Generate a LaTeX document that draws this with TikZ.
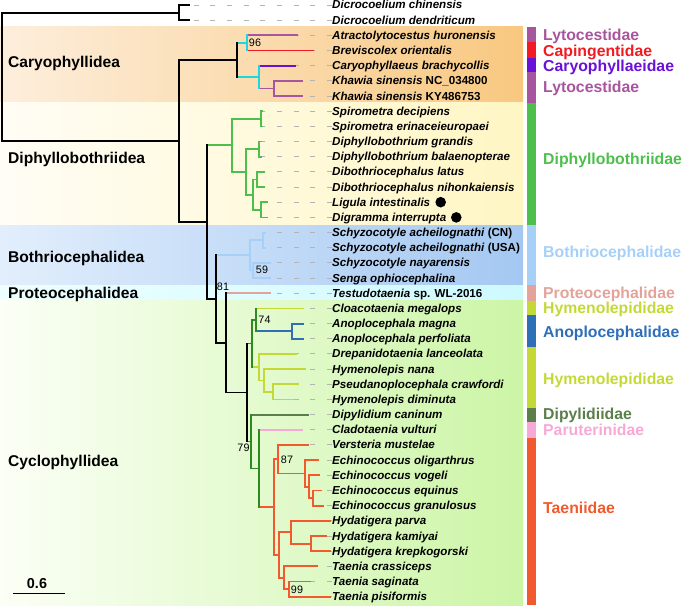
\documentclass[tikz,border=0pt]{standalone}
\usepackage{fontspec}
\setmainfont{Liberation Sans}
\definecolor{cyanb}{HTML}{1CD8DE}
\definecolor{lyto}{HTML}{A8559F}
\definecolor{caping}{HTML}{F21B23}
\definecolor{caryo}{HTML}{6A11D8}
\definecolor{diphy}{HTML}{4CBF4C}
\definecolor{bothr}{HTML}{A6D0F8}
\definecolor{proteo}{HTML}{E3A39A}
\definecolor{hymen}{HTML}{C4D936}
\definecolor{anopl}{HTML}{2E6FB8}
\definecolor{dipyl}{HTML}{5A7F4A}
\definecolor{parut}{HTML}{F7A9D6}
\definecolor{taeni}{HTML}{F05A2E}
\definecolor{dkgreen}{HTML}{2E8B22}
\definecolor{dashgray}{HTML}{B4B4B4}
\newcommand\mkclade[6]{%
  \draw[br,#5] (#1 |- #2) -- (#2);
  \draw[br,#6] (#1 |- #3) -- (#3);
  \draw[br,#4] (#1 |- #2) -- (#1 |- #3);}
\newcommand\tipfont{\fontsize{11.6}{13}\selectfont\bfseries}
\tikzset{
  br/.style={line width=1.8pt, line cap=rect},
  dashline/.style={draw=dashgray, line width=0.9pt, dash pattern=on 5pt off 11.67pt},
  tiplab/.style={anchor=base west, inner sep=0pt, font=\tipfont},
  famlab/.style={anchor=base west, inner sep=0pt, font=\fontsize{15.8}{18}\selectfont\bfseries},
  ordlab/.style={anchor=base west, inner sep=0pt, font=\fontsize{15.6}{18}\selectfont\bfseries},
  bslab/.style={inner sep=0pt, font=\fontsize{10.8}{12}\selectfont},
}
\begin{document}
\begin{tikzpicture}[x=1pt,y=-1pt]
\useasboundingbox (0,0) rectangle (685,605);
% background bands
\shade[left color={rgb,255:red,253;green,238;blue,220}, right color={rgb,255:red,248;green,200;blue,128}] (0,26.7) rectangle (523,102.7);
\shade[left color={rgb,255:red,255;green,253;blue,245}, right color={rgb,255:red,255;green,246;blue,196}] (0,102.7) rectangle (523,225);
\shade[left color={rgb,255:red,226;green,238;blue,252}, right color={rgb,255:red,164;green,200;blue,242}] (0,225) rectangle (523,285);
\shade[left color={rgb,255:red,238;green,255;blue,255}, right color={rgb,255:red,205;green,250;blue,255}] (0,285) rectangle (523,300.7);
\shade[left color={rgb,255:red,251;green,255;blue,246}, right color={rgb,255:red,204;green,245;blue,166}] (0,300.7) rectangle (523,605);
% family bar
\fill[lyto] (527,26.7) rectangle (536,42);
\fill[caping] (527,42) rectangle (536,57.5);
\fill[caryo] (527,57.5) rectangle (536,72);
\fill[lyto] (527,72) rectangle (536,102.7);
\fill[diphy] (527,102.7) rectangle (536,224.5);
\fill[bothr] (527,224.5) rectangle (536,285);
\fill[proteo] (527,285) rectangle (536,300.5);
\fill[hymen] (527,300.5) rectangle (536,315);
\fill[anopl] (527,315) rectangle (536,347);
\fill[hymen] (527,347) rectangle (536,407.5);
\fill[dipyl] (527,407.5) rectangle (536,422);
\fill[parut] (527,422) rectangle (536,437.5);
\fill[taeni] (527,437.5) rectangle (536,605);
% family labels
\node[famlab, text=lyto] (f1) at (543,40.9) {Lytocestidae};
\node[famlab, text=caping] (f2) at (543,56.1) {Capingentidae};
\node[famlab, text=caryo] (f3) at (543,71.3) {Caryophyllaeidae};
\node[famlab, text=lyto] (f4) at (543,92.9) {Lytocestidae};
\node[famlab, text=diphy] (f5) at (543,164.9) {Diphyllobothriidae};
\node[famlab, text=bothr] (f6) at (543,257.9) {Bothriocephalidae};
\node[famlab, text=proteo] (f7) at (543,298.9) {Proteocephalidae};
\node[famlab, text=hymen] (f8) at (543,313.9) {Hymenolepididae};
\node[famlab, text=anopl] (f9) at (543,337.3) {Anoplocephalidae};
\node[famlab, text=hymen] (f10) at (543,384.9) {Hymenolepididae};
\node[famlab, text=dipyl] (f11) at (543,419.9) {Dipylidiidae};
\node[famlab, text=parut] (f12) at (543,435.6) {Paruterinidae};
\node[famlab, text=taeni] (f13) at (543,513.9) {Taeniidae};
% order labels
\node[ordlab] (o1) at (8,67.3) {Caryophyllidea};
\node[ordlab] (o2) at (8,163.9) {Diphyllobothriidea};
\node[ordlab] (o3) at (8,262.3) {Bothriocephalidea};
\node[ordlab] (o4) at (8,298.9) {Proteocephalidea};
\node[ordlab] (o5) at (8,466.6) {Cyclophyllidea};
% tips
\coordinate (t1) at (189,5.0);
\coordinate (t2) at (189,20.2);
\coordinate (t3) at (297,35.3);
\coordinate (t4) at (313,50.5);
\coordinate (t5) at (295,65.7);
\coordinate (t6) at (302,80.9);
\coordinate (t7) at (302,96.0);
\coordinate (t8) at (262.5,111.2);
\coordinate (t9) at (262.5,126.4);
\coordinate (t10) at (261.5,141.5);
\coordinate (t11) at (261.5,156.7);
\coordinate (t12) at (264,171.9);
\coordinate (t13) at (264,187.0);
\coordinate (t14) at (266.7,202.2);
\coordinate (t15) at (266.7,217.4);
\coordinate (t16) at (265,232.6);
\coordinate (t17) at (265,247.7);
\coordinate (t18) at (270,262.9);
\coordinate (t19) at (270,278.1);
\coordinate (t20) at (270,293.2);
\coordinate (t21) at (302.7,308.4);
\coordinate (t22) at (302.7,323.6);
\coordinate (t23) at (302.7,338.7);
\coordinate (t24) at (296,353.9);
\coordinate (t25) at (305,369.1);
\coordinate (t26) at (297.7,384.3);
\coordinate (t27) at (292.7,399.4);
\coordinate (t28) at (308.3,414.6);
\coordinate (t29) at (302.3,429.8);
\coordinate (t30) at (308.3,444.9);
\coordinate (t31) at (317.7,460.1);
\coordinate (t32) at (319,475.3);
\coordinate (t33) at (321,490.4);
\coordinate (t34) at (323.3,505.6);
\coordinate (t35) at (330,520.8);
\coordinate (t36) at (326,536.0);
\coordinate (t37) at (330,551.1);
\coordinate (t38) at (317.3,566.3);
\coordinate (t39) at (310,581.5);
\coordinate (t40) at (330,596.6);
% tip labels
\node[tiplab] (l1) at (332,9.0) {\itshape Dicrocoelium chinensis};
\node[tiplab] (l2) at (332,24.2) {\itshape Dicrocoelium dendriticum};
\node[tiplab] (l3) at (332,39.3) {\itshape Atractolytocestus huronensis};
\node[tiplab] (l4) at (332,54.5) {\itshape Breviscolex orientalis};
\node[tiplab] (l5) at (332,69.7) {\itshape Caryophyllaeus brachycollis};
\node[tiplab] (l6) at (332,84.9) {\textit{Khawia sinensis} NC\_034800};
\node[tiplab] (l7) at (332,100.0) {\textit{Khawia sinensis} KY486753};
\node[tiplab] (l8) at (332,115.2) {\itshape Spirometra decipiens};
\node[tiplab] (l9) at (332,130.4) {\itshape Spirometra erinaceieuropaei};
\node[tiplab] (l10) at (332,145.5) {\itshape Diphyllobothrium grandis};
\node[tiplab] (l11) at (332,160.7) {\itshape Diphyllobothrium balaenopterae};
\node[tiplab] (l12) at (332,175.9) {\itshape Dibothriocephalus latus};
\node[tiplab] (l13) at (332,191.0) {\itshape Dibothriocephalus nihonkaiensis};
\node[tiplab] (l14) at (332,206.2) {\itshape Ligula intestinalis};
\node[tiplab] (l15) at (332,221.4) {\itshape Digramma interrupta};
\node[tiplab] (l16) at (332,236.6) {\textit{Schyzocotyle acheilognathi} (CN)};
\node[tiplab] (l17) at (332,251.7) {\textit{Schyzocotyle acheilognathi} (USA)};
\node[tiplab] (l18) at (332,266.9) {\itshape Schyzocotyle nayarensis};
\node[tiplab] (l19) at (332,282.1) {\itshape Senga ophiocephalina};
\node[tiplab] (l20) at (332,297.2) {\textit{Testudotaenia} sp. WL-2016};
\node[tiplab] (l21) at (332,312.4) {\itshape Cloacotaenia megalops};
\node[tiplab] (l22) at (332,327.6) {\itshape Anoplocephala magna};
\node[tiplab] (l23) at (332,342.7) {\itshape Anoplocephala perfoliata};
\node[tiplab] (l24) at (332,357.9) {\itshape Drepanidotaenia lanceolata};
\node[tiplab] (l25) at (332,373.1) {\itshape Hymenolepis nana};
\node[tiplab] (l26) at (332,388.3) {\itshape Pseudanoplocephala crawfordi};
\node[tiplab] (l27) at (332,403.4) {\itshape Hymenolepis diminuta};
\node[tiplab] (l28) at (332,418.6) {\itshape Dipylidium caninum};
\node[tiplab] (l29) at (332,433.8) {\itshape Cladotaenia vulturi};
\node[tiplab] (l30) at (332,448.9) {\itshape Versteria mustelae};
\node[tiplab] (l31) at (332,464.1) {\itshape Echinococcus oligarthrus};
\node[tiplab] (l32) at (332,479.3) {\itshape Echinococcus vogeli};
\node[tiplab] (l33) at (332,494.4) {\itshape Echinococcus equinus};
\node[tiplab] (l34) at (332,509.6) {\itshape Echinococcus granulosus};
\node[tiplab] (l35) at (332,524.8) {\itshape Hydatigera parva};
\node[tiplab] (l36) at (332,540.0) {\itshape Hydatigera kamiyai};
\node[tiplab] (l37) at (332,555.1) {\itshape Hydatigera krepkogorski};
\node[tiplab] (l38) at (332,570.3) {\itshape Taenia crassiceps};
\node[tiplab] (l39) at (332,585.5) {\itshape Taenia saginata};
\node[tiplab] (l40) at (332,600.6) {\itshape Taenia pisiformis};
\fill ([xshift=10.3pt,yshift=4pt]l14.base east) circle (5.3pt);
\fill ([xshift=9.8pt,yshift=4pt]l15.base east) circle (5.3pt);
% dashed leaders
\foreach \i in {1,...,40}{\draw[dashline] (l\i.west |- t\i) -- (t\i);}
% internal nodes
\coordinate (root) at (2,76.9);
\coordinate (nD) at (179,12.6);
\coordinate (n179) at (179,141.1);
\coordinate (nCar) at (236.7,60.0);
\coordinate (nA) at (247.3,42.9);
\coordinate (nC) at (259.3,77.0);
\coordinate (nK) at (274.3,88.4);
\coordinate (n207) at (207.3,222.2);
\coordinate (nDip) at (232.3,145.3);
\coordinate (nSp) at (260.7,118.8);
\coordinate (nD2) at (246,171.9);
\coordinate (nDg) at (259.3,149.1);
\coordinate (nD3) at (252.7,194.6);
\coordinate (nDl) at (257.3,179.5);
\coordinate (nLi) at (260.7,209.8);
\coordinate (n216) at (215.7,299.1);
\coordinate (nBo) at (250,255.3);
\coordinate (nSc) at (263.3,240.1);
\coordinate (nSn) at (253.3,270.5);
\coordinate (n226) at (225.7,342.9);
\coordinate (n247) at (246.7,392.5);
\coordinate (nH) at (252.3,343.5);
\coordinate (n74) at (256,319.8);
\coordinate (nAn) at (292.3,331.2);
\coordinate (nHy) at (259.3,367.2);
\coordinate (nHn) at (264,380.5);
\coordinate (nPs) at (273.3,391.8);
\coordinate (nT) at (251,441.5);
\coordinate (nCl) at (259.3,468.4);
\coordinate (nTa) at (274,507.0);
\coordinate (nVE) at (278.3,459.1);
\coordinate (nE) at (305,473.4);
\coordinate (nE2) at (309.3,486.6);
\coordinate (nE3) at (312.7,498.0);
\coordinate (nHT) at (279.3,554.9);
\coordinate (nHyd) at (290.7,532.2);
\coordinate (nHk) at (311,543.6);
\coordinate (nTae) at (284.3,577.7);
\coordinate (nTs) at (289.3,589.0);
% branches
\mkclade{root}{nD}{n179}{black}{black}{black}
\mkclade{nD}{t1}{t2}{black}{black}{black}
\mkclade{n179}{nCar}{n207}{black}{black}{black}
\mkclade{nCar}{nA}{nC}{black}{cyanb}{cyanb}
\mkclade{nA}{t3}{t4}{cyanb}{lyto}{caping}
\mkclade{nC}{t5}{nK}{cyanb}{caryo}{lyto}
\mkclade{nK}{t6}{t7}{lyto}{lyto}{lyto}
\mkclade{n207}{nDip}{n216}{black}{diphy}{black}
\mkclade{nDip}{nSp}{nD2}{diphy}{diphy}{diphy}
\mkclade{nSp}{t8}{t9}{diphy}{diphy}{diphy}
\mkclade{nD2}{nDg}{nD3}{diphy}{diphy}{diphy}
\mkclade{nDg}{t10}{t11}{diphy}{diphy}{diphy}
\mkclade{nD3}{nDl}{nLi}{diphy}{diphy}{diphy}
\mkclade{nDl}{t12}{t13}{diphy}{diphy}{diphy}
\mkclade{nLi}{t14}{t15}{diphy}{diphy}{diphy}
\mkclade{n216}{nBo}{n226}{black}{bothr}{black}
\mkclade{nBo}{nSc}{nSn}{bothr}{bothr}{bothr}
\mkclade{nSc}{t16}{t17}{bothr}{bothr}{bothr}
\mkclade{nSn}{t18}{t19}{bothr}{bothr}{bothr}
\mkclade{n226}{t20}{n247}{black}{proteo}{black}
\mkclade{n247}{nH}{nT}{black}{dkgreen}{dkgreen}
\mkclade{nH}{n74}{nHy}{dkgreen}{dkgreen}{hymen}
\mkclade{n74}{t21}{nAn}{dkgreen}{hymen}{anopl}
\mkclade{nAn}{t22}{t23}{anopl}{anopl}{anopl}
\mkclade{nHy}{t24}{nHn}{hymen}{hymen}{hymen}
\mkclade{nHn}{t25}{nPs}{hymen}{hymen}{hymen}
\mkclade{nPs}{t26}{t27}{hymen}{hymen}{hymen}
\mkclade{nT}{t28}{nCl}{dkgreen}{dipyl}{dkgreen}
\mkclade{nCl}{t29}{nTa}{dkgreen}{parut}{taeni}
\mkclade{nTa}{nVE}{nHT}{taeni}{taeni}{taeni}
\mkclade{nVE}{t30}{nE}{taeni}{taeni}{taeni}
\mkclade{nE}{t31}{nE2}{taeni}{taeni}{taeni}
\mkclade{nE2}{t32}{nE3}{taeni}{taeni}{taeni}
\mkclade{nE3}{t33}{t34}{taeni}{taeni}{taeni}
\mkclade{nHT}{nHyd}{nTae}{taeni}{taeni}{taeni}
\mkclade{nHyd}{t35}{nHk}{taeni}{taeni}{taeni}
\mkclade{nHk}{t36}{t37}{taeni}{taeni}{taeni}
\mkclade{nTae}{t38}{nTs}{taeni}{taeni}{taeni}
\mkclade{nTs}{t39}{t40}{taeni}{taeni}{taeni}
% bootstrap values
\node[bslab] (b96) at (255,43) {96};
\node[bslab] (b81) at (223,287) {81};
\node[bslab] (b59) at (262,270) {59};
\node[bslab] (b74) at (264.5,320) {74};
\node[bslab] (b79) at (243.5,447.7) {79};
\node[bslab] (b87) at (287,459.3) {87};
\node[bslab] (b99) at (297,590) {99};
% scale bar
\node[anchor=base, inner sep=0pt, font=\fontsize{14.4}{16}\selectfont\bfseries] (sc) at (37,588.5) {0.6};
\coordinate (sb1) at (13.3,593.5);
\coordinate (sb2) at (65,593.5);
\draw[line width=1.8pt] (sb1) -- (sb2);
\end{tikzpicture}
\end{document}
